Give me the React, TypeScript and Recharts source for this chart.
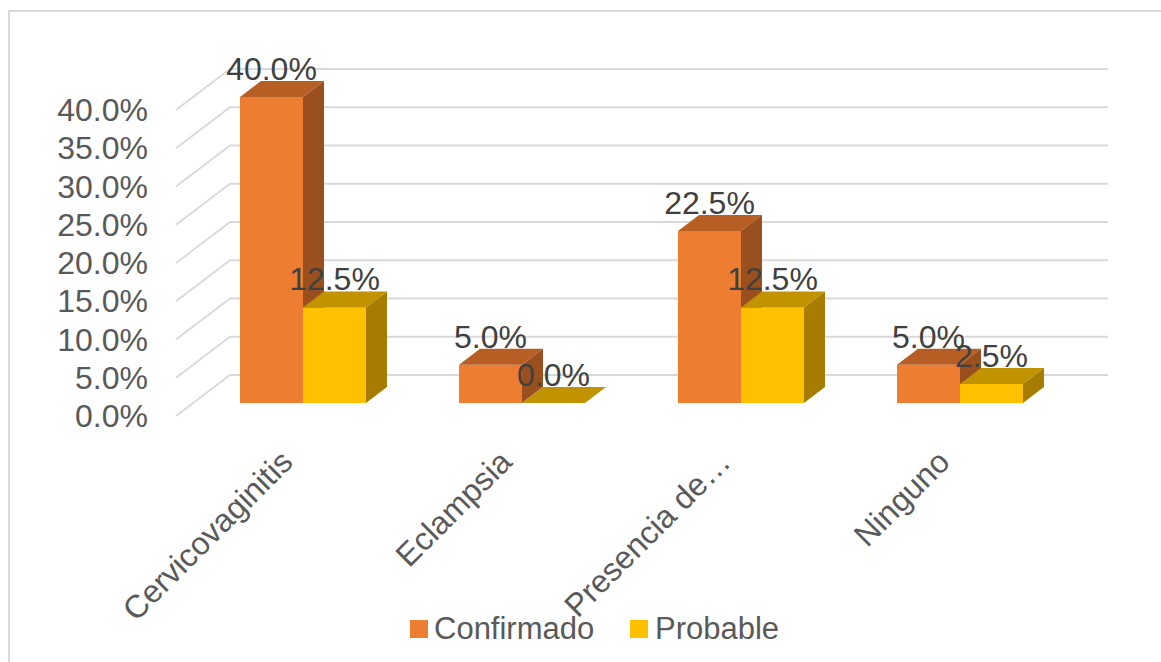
import React from 'react';
import { BarChart, Bar, XAxis, YAxis, CartesianGrid, LabelList, Legend } from 'recharts';

const categories = ['Cervicovaginitis', 'Eclampsia', 'Presencia de…', 'Ninguno'];
const confirmado = [0.4, 0.05, 0.225, 0.05];
const probable = [0.125, 0.0, 0.125, 0.025];
const yTicks = [0, 0.05, 0.1, 0.15, 0.2, 0.25, 0.3, 0.35, 0.4];
const seriesNames = ['Confirmado', 'Probable'];

const data = categories.map((name, i) => ({ name, confirmado: confirmado[i], probable: probable[i] }));

const ORANGE = { front: '#ED7D31', top: '#B65E24', side: '#9A501E' };
const YELLOW = { front: '#FFC000', top: '#C29300', side: '#A67D00' };

const FONT = "'Liberation Sans', Arial, sans-serif";
const NARROW = "'Liberation Sans Narrow', 'Arial Narrow', sans-serif";

const BAR_DX = 21;
const BAR_DY = 16;

const make3D = (c: { front: string; top: string; side: string }) => (props: any) => {
  const { x, y, width, height } = props;
  if (x == null || y == null) return <g />;
  const h = Math.max(0, height || 0);
  const x2 = x + width;
  const y2 = y + h;
  return (
    <g>
      {h > 0 && <rect x={x} y={y} width={width} height={h} fill={c.front} />}
      <path d={`M${x},${y} L${x + BAR_DX},${y - BAR_DY} L${x2 + BAR_DX},${y - BAR_DY} L${x2},${y} Z`} fill={c.top} />
      {h > 0 && (
        <path d={`M${x2},${y} L${x2 + BAR_DX},${y - BAR_DY} L${x2 + BAR_DX},${y2 - BAR_DY} L${x2},${y2} Z`} fill={c.side} />
      )}
    </g>
  );
};

const pct = (v: number) => `${(v * 100).toFixed(1)}%`;

const gridLine = (props: any) => {
  const { x1, x2, y1 } = props;
  const d = `M${x1 - 17},${y1 + 13} L${x1 + 37},${y1 - 28} L${x2 + 39},${y1 - 28}`;
  return <path key={`g-${y1}`} d={d} stroke="#D9D9D9" strokeWidth={1.8} fill="none" />;
};

const YTick = (props: any) => {
  const { x, y, payload } = props;
  return (
    <text x={x - 45} y={y + 24} textAnchor="end" fontFamily={NARROW} fontSize={32} fill="#595959">
      {pct(payload.value)}
    </text>
  );
};

const XTick = (props: any) => {
  const { x, y, payload } = props;
  return (
    <text
      transform={`translate(${x - 8},${y + 61}) rotate(-45)`}
      textAnchor="end"
      fontFamily={FONT}
      fontSize={32}
      fill="#595959"
    >
      {payload.value}
    </text>
  );
};

const DataLabel = (props: any) => {
  const { x, y, width, value } = props;
  return (
    <text x={x + width / 2} y={y - 17} textAnchor="middle" fontFamily={NARROW} fontSize={32} fill="#404040">
      {pct(value)}
    </text>
  );
};

const LegendContent = () => (
  <div style={{ position: 'relative', width: 1161, height: 50, fontFamily: FONT, fontSize: 31, color: '#595959' }}>
    <div style={{ position: 'absolute', left: 410, top: 21, width: 18, height: 18, background: ORANGE.front }} />
    <div style={{ position: 'absolute', left: 434, top: 12, lineHeight: '36px', whiteSpace: 'nowrap' }}>{seriesNames[0]}</div>
    <div style={{ position: 'absolute', left: 630, top: 21, width: 18, height: 18, background: YELLOW.front }} />
    <div style={{ position: 'absolute', left: 655, top: 12, lineHeight: '36px', whiteSpace: 'nowrap' }}>{seriesNames[1]}</div>
  </div>
);

export default function App() {
  return (
    <div style={{ position: 'absolute', left: 0, top: 0, width: 1161, height: 662, background: '#fff', overflow: 'hidden' }}>
      <div
        style={{
          position: 'absolute',
          left: 8,
          top: 10,
          width: 1161 - 8,
          height: 662 - 10,
          borderLeft: '2px solid #D9D9D9',
          borderTop: '2px solid #D9D9D9',
          boxSizing: 'border-box',
        }}
      />
      <div style={{ position: 'absolute', left: 0, top: 0 }}>
        <BarChart
          width={1161}
          height={662}
          data={data}
          margin={{ top: 97, right: 92, left: 0, bottom: 13 }}
          barCategoryGap={47}
          barGap={0}
        >
          <CartesianGrid vertical={false} horizontal={gridLine} />
          <YAxis
            domain={[0, 0.4]}
            ticks={yTicks}
            width={193}
            axisLine={false}
            tickLine={false}
            tickSize={0}
            tickMargin={0}
            tick={<YTick />}
            interval={0}
          />
          <XAxis
            dataKey="name"
            height={196}
            axisLine={false}
            tickLine={false}
            tickSize={0}
            tickMargin={0}
            tick={<XTick />}
            interval={0}
          />
          <Legend verticalAlign="bottom" height={50} content={<LegendContent />} wrapperStyle={{ left: 0, width: 1161 }} />
          <Bar dataKey="confirmado" name={seriesNames[0]} fill={ORANGE.front} shape={make3D(ORANGE)} isAnimationActive={false}>
            <LabelList dataKey="confirmado" content={<DataLabel />} />
          </Bar>
          <Bar dataKey="probable" name={seriesNames[1]} fill={YELLOW.front} shape={make3D(YELLOW)} isAnimationActive={false}>
            <LabelList dataKey="probable" content={<DataLabel />} />
          </Bar>
        </BarChart>
      </div>
    </div>
  );
}
